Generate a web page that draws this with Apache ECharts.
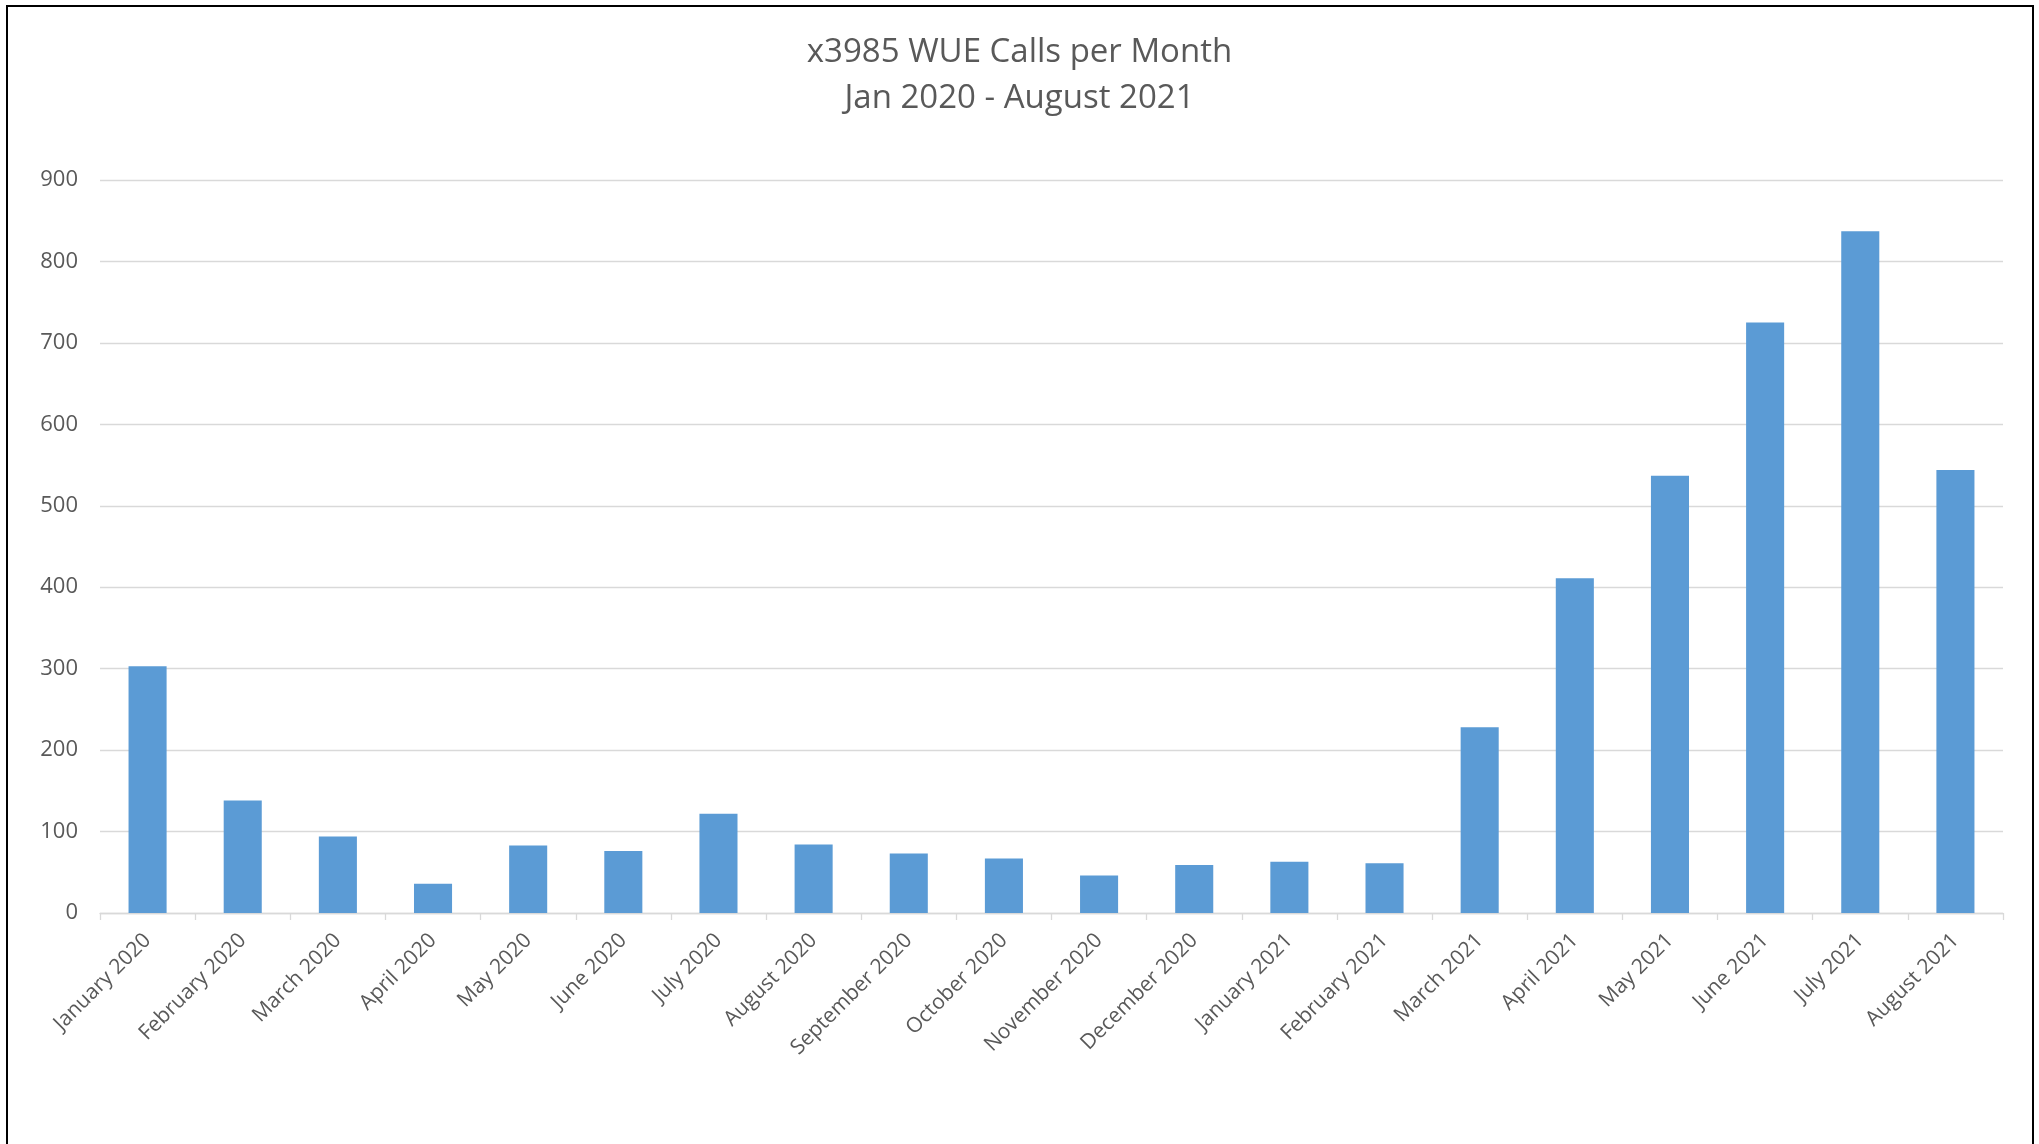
<!DOCTYPE html>
<html>
<head>
<meta charset="utf-8">
<script src="https://cdn.jsdelivr.net/npm/echarts@6/dist/echarts.min.js"></script>
<style>
    html, body { margin: 0; padding: 0; background: #fff; }
    #main { width: 2039px; height: 1144px; }
</style>
</head>
<body>
<div id="main"></div>
<script>
    // data
    var months = [
        'January 2020', 'February 2020', 'March 2020', 'April 2020', 'May 2020',
        'June 2020', 'July 2020', 'August 2020', 'September 2020', 'October 2020',
        'November 2020', 'December 2020', 'January 2021', 'February 2021', 'March 2021',
        'April 2021', 'May 2021', 'June 2021', 'July 2021', 'August 2021'
    ];
    var calls = [303, 138, 94, 36, 83, 76, 122, 84, 73, 67, 46, 59, 63, 61, 228, 411, 537, 725, 837, 544];
    var yTicks = [0, 100, 200, 300, 400, 500, 600, 700, 800, 900];

    var titleLines = ['x3985 WUE Calls per Month', 'Jan 2020 - August 2021'];

    var font = '"Open Sans", "Liberation Sans", sans-serif';
    var textGrey = '#595959';
    var lineGrey = '#d9d9d9';

    var chart = echarts.init(document.getElementById('main'));

    var option = {
        backgroundColor: '#fff',
        animation: false,
        title: {
            text: titleLines.join('\n'),
            left: 'center',
            top: 30,
            padding: 0,
            textStyle: {
                fontFamily: font,
                fontSize: 33,
                fontWeight: 'normal',
                color: textGrey,
                lineHeight: 46
            }
        },
        grid: {
            left: 100,
            right: 36,
            top: 180,
            bottom: 231,
            containLabel: false
        },
        xAxis: {
            type: 'category',
            data: months,
            boundaryGap: true,
            axisLine: { lineStyle: { color: lineGrey, width: 1.3 } },
            axisTick: { show: true, length: 7, alignWithLabel: false, lineStyle: { color: lineGrey, width: 1.3 } },
            axisLabel: {
                interval: 0,
                rotate: 45,
                margin: 24,
                fontFamily: font,
                fontSize: 21,
                color: textGrey
            }
        },
        yAxis: {
            type: 'value',
            min: yTicks[0],
            max: yTicks[yTicks.length - 1],
            interval: 100,
            axisLine: { show: false },
            axisTick: { show: false },
            splitLine: { lineStyle: { color: lineGrey, width: 1.3 } },
            axisLabel: {
                margin: 22,
                fontFamily: font,
                fontSize: 22,
                color: textGrey
            }
        },
        graphic: [{
            type: 'rect',
            silent: true,
            shape: { x: 7, y: 6, width: 2026, height: 1200 },
            style: { fill: 'none', stroke: '#000', lineWidth: 2 }
        }],
        series: [{
            type: 'bar',
            data: calls,
            barCategoryGap: '60%',
            itemStyle: { color: '#5b9bd5' }
        }]
    };

    chart.setOption(option);
</script>
</body>
</html>
